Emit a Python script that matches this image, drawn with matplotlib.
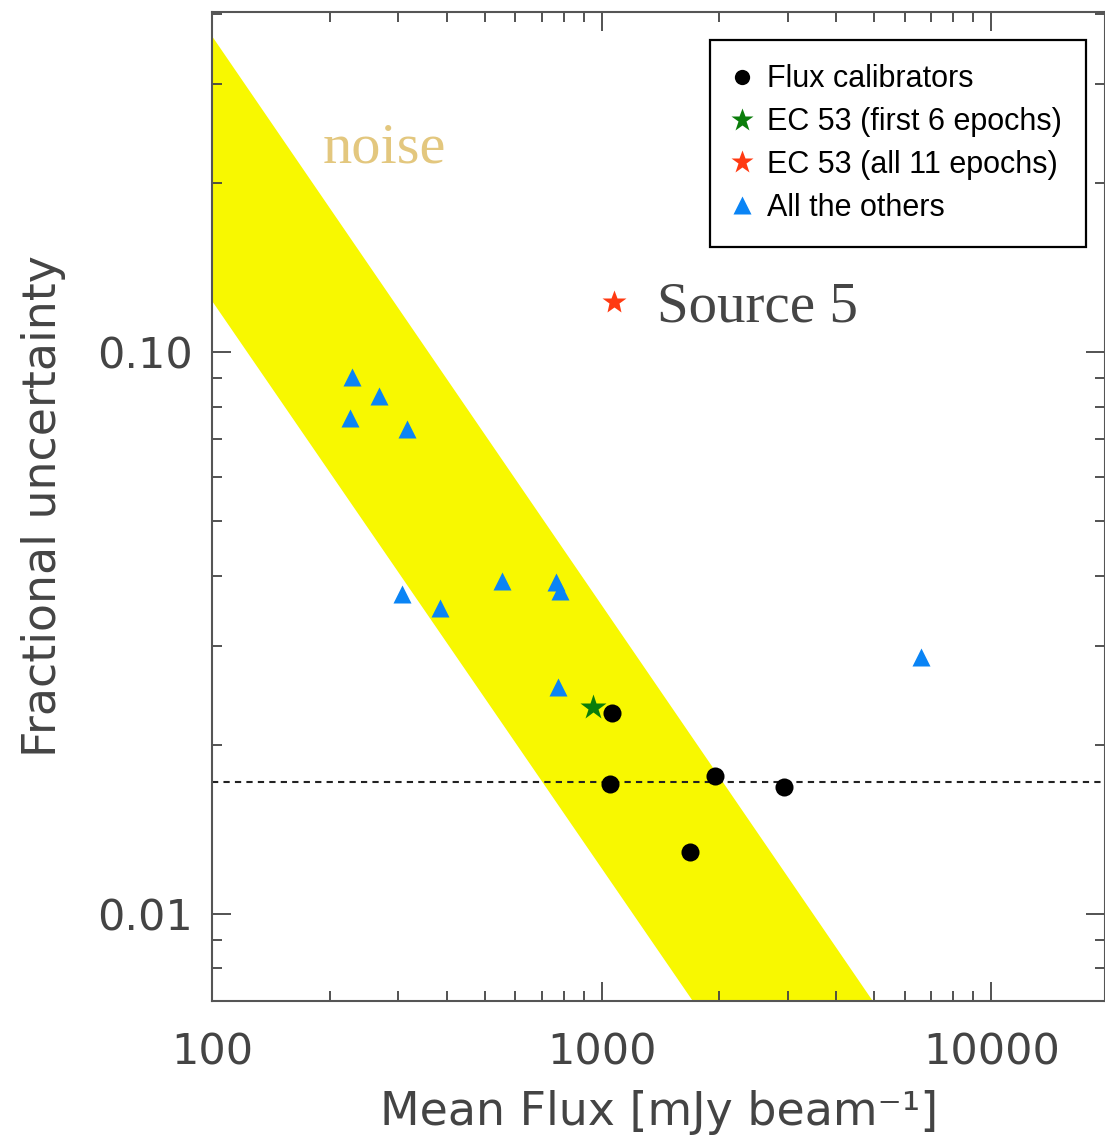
import numpy as np
import matplotlib
matplotlib.use("Agg")
import matplotlib.pyplot as plt
from matplotlib.lines import Line2D
from matplotlib.patches import Polygon
from matplotlib.ticker import LogLocator, NullFormatter

# flux calibrators
cal_flux = [1059, 1048, 1951, 2933, 1685]
cal_frac = [0.0228, 0.0170, 0.0176, 0.0168, 0.0129]

# EC 53, first 6 epochs and all 11 epochs
ec53_first_flux = [947]
ec53_first_frac = [0.0234]
ec53_all_flux = [1074]
ec53_all_frac = [0.1227]

# all the other sources
other_flux = [228, 267, 225, 315, 307, 384, 553, 762, 780, 771, 6590]
other_frac = [0.0904, 0.0835, 0.0762, 0.0731, 0.0371, 0.0351, 0.0392,
              0.0389, 0.0376, 0.0253, 0.0287]

# noise band edges (fractional uncertainty ~ 1/flux)
band_upper_flux = [100, 4963]
band_upper_frac = [0.364, 0.0070]
band_lower_flux = [100, 1712]
band_lower_frac = [0.123, 0.0070]

# calibration floor
floor_frac = 0.01715

xlims = (100, 19600)
ylims = (0.0070, 0.403)

axis_grey = '#444444'

fig = plt.figure(figsize=(11.05, 11.41), dpi=100)
ax = fig.add_axes([0.1923, 0.1227, 0.8077, 0.8668])
ax.set_xscale('log')
ax.set_yscale('log')
ax.set_xlim(*xlims)
ax.set_ylim(*ylims)

# yellow noise band
band_pts = list(zip(band_upper_flux, band_upper_frac)) + \
    list(zip(band_lower_flux[::-1], band_lower_frac[::-1]))
ax.add_patch(Polygon(band_pts, closed=True, facecolor='#f8f800',
                     edgecolor='none', zorder=1))

ax.axhline(floor_frac, color='#222222', lw=1.5, ls=(0, (3, 2.5)), zorder=2)

ax.plot(other_flux, other_frac, ls='none', marker='^', ms=12.5,
        color='#0a84f5', mec='none', zorder=3)
ax.plot(cal_flux, cal_frac, ls='none', marker='o', ms=13,
        color='black', mec='none', zorder=4)
ax.plot(ec53_first_flux, ec53_first_frac, ls='none', marker='*', ms=19,
        color='#0a7d0a', mec='none', zorder=3)
ax.plot(ec53_all_flux, ec53_all_frac, ls='none', marker='*', ms=18,
        color='#ff3a12', mec='none', zorder=4)

ax.text(0.1233, 0.848, 'noise', transform=ax.transAxes, fontsize=42,
        family='Liberation Serif', color='#e3c77e', va='baseline')
ax.text(0.4978, 0.6866, 'Source 5', transform=ax.transAxes, fontsize=41,
        family='Liberation Serif', color='#454545', va='baseline')

# ticks on all four sides, pointing in
ax.set_xticks([100, 1000, 10000], labels=['100', '1000', '10000'])
ax.set_yticks([0.01, 0.1], labels=['0.01', '0.10'])
ax.xaxis.set_minor_locator(LogLocator(base=10, subs=np.arange(2, 10)))
ax.yaxis.set_minor_locator(LogLocator(base=10, subs=np.arange(2, 10)))
ax.xaxis.set_minor_formatter(NullFormatter())
ax.yaxis.set_minor_formatter(NullFormatter())
ax.tick_params(which='both', direction='in', top=True, right=True,
               color=axis_grey, width=1.3, labelcolor=axis_grey,
               labelsize=31)
ax.tick_params(which='major', length=14)
ax.tick_params(which='minor', length=7)
ax.tick_params(axis='x', pad=22)
ax.tick_params(axis='y', pad=14)
for sp in ax.spines.values():
    sp.set_color('#555555')
    sp.set_linewidth(1.5)

ax.set_xlabel('Mean Flux [mJy beam\u207b\u00b9]', fontsize=33, color=axis_grey)
ax.set_ylabel('Fractional uncertainty', fontsize=33, color=axis_grey)
ax.xaxis.set_label_coords(0.5, -0.09)
ax.yaxis.set_label_coords(-0.164, 0.5)

handles = [
    Line2D([], [], ls='none', marker='o', ms=11, color='black', mec='none'),
    Line2D([], [], ls='none', marker='*', ms=17, color='#0a7d0a', mec='none'),
    Line2D([], [], ls='none', marker='*', ms=17, color='#ff3a12', mec='none'),
    Line2D([], [], ls='none', marker='^', ms=13, color='#0a84f5', mec='none'),
]
labels = ['Flux calibrators', 'EC 53 (first 6 epochs)',
          'EC 53 (all 11 epochs)', 'All the others']
leg = ax.legend(handles, labels, loc='upper left',
                bbox_to_anchor=(710 / 1105, 1 - 40 / 1141),
                bbox_transform=fig.transFigure, borderaxespad=0,
                prop={'family': 'Liberation Sans', 'size': 22},
                frameon=True, fancybox=False, framealpha=1,
                edgecolor='black', borderpad=0.8, labelspacing=0.42,
                handlelength=0.5, handletextpad=0.55)
leg.get_frame().set_linewidth(1.6)
leg.set_zorder(5)

fig.savefig('out.png', dpi=100)
